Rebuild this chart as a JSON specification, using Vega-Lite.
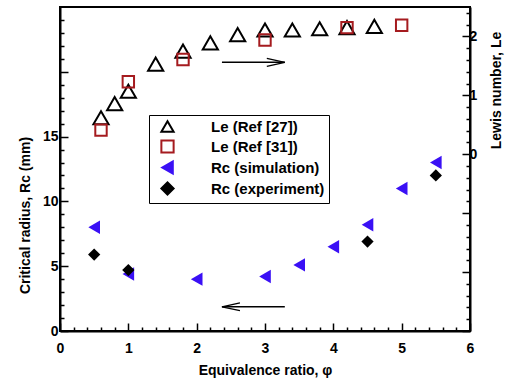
{
  "$schema": "https://vega.github.io/schema/vega-lite/v6.json",
  "width": 410,
  "height": 324,
  "autosize": {"type": "none"},
  "padding": {"left": 60, "top": 7, "right": 44, "bottom": 49},
  "background": "white",
  "config": {
    "view": {"stroke": "black", "strokeWidth": 2},
    "axis": {
      "grid": false,
      "domainColor": "black",
      "domainWidth": 2,
      "tickColor": "black",
      "tickWidth": 1.5,
      "labelFont": "Liberation Sans",
      "labelFontSize": 14,
      "labelFontWeight": "bold",
      "labelColor": "black",
      "labelOverlap": false,
      "labelFlush": false,
      "titleFont": "Liberation Sans",
      "titleFontSize": 14,
      "titleFontWeight": "bold",
      "titleColor": "black"
    },
    "legend": {
      "orient": "none",
      "legendX": 89,
      "legendY": 108,
      "strokeColor": "black",
      "strokeWidth": 1,
      "fillColor": "white",
      "padding": 4,
      "symbolOffset": 7,
      "symbolSize": 150,
      "symbolStrokeWidth": 2,
      "symbolOpacity": 1,
      "labelFont": "Liberation Sans",
      "labelFontSize": 15,
      "labelFontWeight": "bold",
      "labelColor": "black",
      "labelOffset": 36,
      "rowPadding": 0
    }
  },
  "datasets": {
    "rc": [
      {"phi": 0.5, "value": 8.0, "series": "Rc (simulation)"},
      {"phi": 1.0, "value": 4.4, "series": "Rc (simulation)"},
      {"phi": 2.0, "value": 4.0, "series": "Rc (simulation)"},
      {"phi": 3.0, "value": 4.2, "series": "Rc (simulation)"},
      {"phi": 3.5, "value": 5.1, "series": "Rc (simulation)"},
      {"phi": 4.0, "value": 6.5, "series": "Rc (simulation)"},
      {"phi": 4.5, "value": 8.2, "series": "Rc (simulation)"},
      {"phi": 5.0, "value": 11.0, "series": "Rc (simulation)"},
      {"phi": 5.5, "value": 13.0, "series": "Rc (simulation)"},
      {"phi": 0.5, "value": 5.9, "series": "Rc (experiment)"},
      {"phi": 1.0, "value": 4.7, "series": "Rc (experiment)"},
      {"phi": 4.5, "value": 6.9, "series": "Rc (experiment)"},
      {"phi": 5.5, "value": 12.0, "series": "Rc (experiment)"}
    ],
    "le": [
      {"phi": 0.6, "value": 0.62, "series": "Le (Ref [27])"},
      {"phi": 0.8, "value": 0.86, "series": "Le (Ref [27])"},
      {"phi": 1.0, "value": 1.07, "series": "Le (Ref [27])"},
      {"phi": 1.4, "value": 1.53, "series": "Le (Ref [27])"},
      {"phi": 1.8, "value": 1.75, "series": "Le (Ref [27])"},
      {"phi": 2.2, "value": 1.89, "series": "Le (Ref [27])"},
      {"phi": 2.6, "value": 2.03, "series": "Le (Ref [27])"},
      {"phi": 3.0, "value": 2.11, "series": "Le (Ref [27])"},
      {"phi": 3.4, "value": 2.11, "series": "Le (Ref [27])"},
      {"phi": 3.8, "value": 2.13, "series": "Le (Ref [27])"},
      {"phi": 4.2, "value": 2.15, "series": "Le (Ref [27])"},
      {"phi": 4.6, "value": 2.17, "series": "Le (Ref [27])"},
      {"phi": 0.6, "value": 0.41, "series": "Le (Ref [31])"},
      {"phi": 1.0, "value": 1.23, "series": "Le (Ref [31])"},
      {"phi": 1.8, "value": 1.61, "series": "Le (Ref [31])"},
      {"phi": 3.0, "value": 1.94, "series": "Le (Ref [31])"},
      {"phi": 4.2, "value": 2.15, "series": "Le (Ref [31])"},
      {"phi": 5.0, "value": 2.19, "series": "Le (Ref [31])"}
    ],
    "rcArrow": [{"phi": 2.37, "phi2": 3.29, "value": 1.87}],
    "rcHead": [{"phi": 2.37, "value": 1.87}],
    "leArrow": [{"phi": 2.37, "phi2": 3.29, "value": 1.56}],
    "leHead": [{"phi": 3.29, "value": 1.56}]
  },
  "encoding": {
    "x": {
      "field": "phi",
      "type": "quantitative",
      "scale": {"domain": [0, 6], "nice": false, "zero": false},
      "axis": {
        "orient": "bottom",
        "title": "Equivalence ratio, φ",
        "values": [0, 0.2, 0.4, 0.6, 0.8, 1, 1.2, 1.4, 1.6, 1.8, 2, 2.2, 2.4, 2.6, 2.8, 3, 3.2, 3.4, 3.6, 3.8, 4, 4.2, 4.4, 4.6, 4.8, 5, 5.2, 5.4, 5.6, 5.8, 6],
        "tickSize": {"condition": {"test": "abs(datum.value - round(datum.value)) < 0.01", "value": -8}, "value": -4},
        "labelPadding": 18,
        "labelExpr": "abs(datum.value - round(datum.value)) < 0.01 ? format(datum.value, 'd') : ''",
        "titlePadding": 4
      }
    }
  },
  "layer": [
    {
      "encoding": {
        "y": {
          "field": "value",
          "type": "quantitative",
          "scale": {"domain": [0, 25], "nice": false, "zero": false},
          "axis": {
            "orient": "left",
            "title": "Critical radius, Rc (mm)",
            "values": [0, 1, 2, 3, 4, 5, 6, 7, 8, 9, 10, 11, 12, 13, 14, 15, 16, 17, 18, 19, 20, 21, 22, 23, 24],
            "tickSize": {"condition": {"test": "datum.value % 5 === 0", "value": -8}, "value": -4},
            "labelPadding": 10,
            "labelExpr": "(datum.value % 5 === 0 && datum.value <= 15) ? format(datum.value, 'd') : ''",
            "titleAngle": 270,
            "titleX": -35,
            "titleY": 208,
            "titleAlign": "center",
            "titleBaseline": "middle"
          }
        }
      },
      "layer": [
        {
          "data": {"name": "rc"},
          "mark": {"type": "point", "strokeWidth": 2, "opacity": 1},
          "encoding": {
            "shape": {"field": "series", "type": "nominal", "title": null,
              "scale": {"domain": ["Le (Ref [27])", "Le (Ref [31])", "Rc (simulation)", "Rc (experiment)"], "range": ["triangle-up", "square", "triangle-left", "diamond"]}},
            "fill": {"field": "series", "type": "nominal", "title": null,
              "scale": {"domain": ["Le (Ref [27])", "Le (Ref [31])", "Rc (simulation)", "Rc (experiment)"], "range": ["transparent", "transparent", "#3a10f5", "black"]}},
            "stroke": {"field": "series", "type": "nominal", "title": null,
              "scale": {"domain": ["Le (Ref [27])", "Le (Ref [31])", "Rc (simulation)", "Rc (experiment)"], "range": ["black", "#a51b1f", "#3a10f5", "black"]}},
            "strokeWidth": {"condition": {"test": "datum.series === 'Rc (simulation)' || datum.series === 'Rc (experiment)'", "value": 0}, "value": 2},
            "size": {"condition": {"test": "datum.series === 'Rc (simulation)'", "value": 180}, "value": 150}
          }
        },
        {
          "data": {"name": "rcArrow"},
          "mark": {"type": "rule", "color": "black", "strokeWidth": 1.5},
          "encoding": {"x2": {"field": "phi2"}}
        },
        {
          "data": {"name": "rcHead"},
          "mark": {"type": "point", "shape": "M 1 -0.22 L 0 0 L 1 0.22", "size": 1296, "filled": false, "color": "black", "strokeWidth": 1.3, "opacity": 1}
        }
      ]
    },
    {
      "encoding": {
        "y": {
          "field": "value",
          "type": "quantitative",
          "scale": {"domain": [-3, 2.5], "nice": false, "zero": false},
          "axis": {
            "orient": "right",
            "title": "Lewis number, Le",
            "values": [-3, -2.8, -2.6, -2.4, -2.2, -2, -1.8, -1.6, -1.4, -1.2, -1, -0.8, -0.6, -0.4, -0.2, 0, 0.2, 0.4, 0.6, 0.8, 1, 1.2, 1.4, 1.6, 1.8, 2, 2.2, 2.4],
            "tickSize": {"condition": {"test": "abs(datum.value - round(datum.value)) < 0.01", "value": -8}, "value": -4},
            "labelPadding": 7,
            "labelExpr": "(datum.value > -0.01 && abs(datum.value - round(datum.value)) < 0.01) ? format(datum.value, 'd') : ''",
            "titleAngle": 270,
            "titleX": 26,
            "titleY": 83,
            "titleAlign": "center",
            "titleBaseline": "middle"
          }
        }
      },
      "layer": [
        {
          "data": {"name": "le"},
          "mark": {"type": "point", "strokeWidth": 2, "opacity": 1},
          "encoding": {
            "shape": {"field": "series", "type": "nominal", "title": null,
              "scale": {"domain": ["Le (Ref [27])", "Le (Ref [31])", "Rc (simulation)", "Rc (experiment)"], "range": ["triangle-up", "square", "triangle-left", "diamond"]}},
            "fill": {"field": "series", "type": "nominal", "title": null,
              "scale": {"domain": ["Le (Ref [27])", "Le (Ref [31])", "Rc (simulation)", "Rc (experiment)"], "range": ["transparent", "transparent", "#3a10f5", "black"]}},
            "stroke": {"field": "series", "type": "nominal", "title": null,
              "scale": {"domain": ["Le (Ref [27])", "Le (Ref [31])", "Rc (simulation)", "Rc (experiment)"], "range": ["black", "#a51b1f", "#3a10f5", "black"]}},
            "size": {"condition": {"test": "datum.series === 'Le (Ref [27])'", "value": 230}, "value": 130}
          }
        },
        {
          "data": {"name": "leArrow"},
          "mark": {"type": "rule", "color": "black", "strokeWidth": 1.5},
          "encoding": {"x2": {"field": "phi2"}}
        },
        {
          "data": {"name": "leHead"},
          "mark": {"type": "point", "shape": "M -1 -0.22 L 0 0 L -1 0.22", "size": 1296, "filled": false, "color": "black", "strokeWidth": 1.3, "opacity": 1}
        }
      ]
    }
  ],
  "resolve": {"scale": {"y": "independent"}}
}
